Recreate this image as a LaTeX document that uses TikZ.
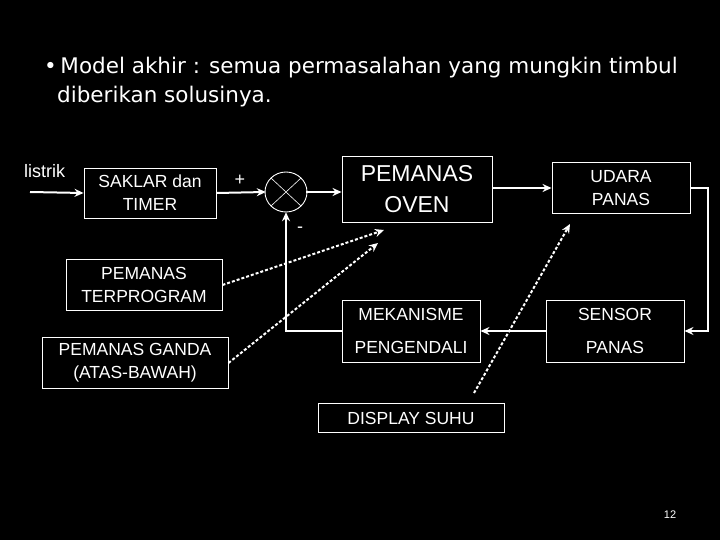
\documentclass[tikz,border=0pt]{standalone}
\usepackage{fontspec}
\setmainfont{Liberation Sans}
\newfontfamily\titlefont{DejaVu Sans}
\usetikzlibrary{arrows.meta}
\begin{document}
\begin{tikzpicture}[x=1pt,y=-1pt,
  box/.style={draw=white,line width=0.9pt,text=white,align=center,inner sep=0pt,font=\fontsize{17.5}{23}\selectfont},
  conn/.style={draw=white,line width=2pt,-{Stealth[length=9pt,width=8pt]}},
  dot/.style={draw=white,line width=2pt,dash pattern=on 3pt off 2pt,-{Stealth[length=9pt,width=8pt]}},
  lbl/.style={text=white,inner sep=0pt,font=\fontsize{18}{20}\selectfont}]
\fill[black] (0,0) rectangle (720,540);
\useasboundingbox (0,0) rectangle (720,540);
\node[anchor=west,text=white,inner sep=0pt,font=\titlefont\fontsize{21.5}{29}\selectfont,align=left] (title) at (44,82)
 {\textbullet\,Model akhir : semua permasalahan yang mungkin timbul\\\hspace*{13pt}diberikan solusinya.};
\node[box,minimum width=132,minimum height=50] (saklar) at (150,193) {SAKLAR dan\\TIMER};
\draw[white,line width=0.9pt] (286,192) ellipse (21 and 20);
\node[minimum size=40,inner sep=0pt] (sum) at (286,192) {};
\draw[white,line width=0.6pt] (271,178)--(301,206) (301,178)--(271,206);
\node[box,minimum width=150,minimum height=66,font=\fontsize{23}{31}\selectfont] (oven) at (417,189) {PEMANAS\\OVEN};
\node[box,minimum width=138,minimum height=51] (udara) at (621,188) {UDARA\\PANAS};
\node[box,minimum width=138,minimum height=62,font=\fontsize{17.5}{33}\selectfont] (meka) at (411,331) {MEKANISME\\PENGENDALI};
\node[box,minimum width=138,minimum height=62,font=\fontsize{17.5}{33}\selectfont] (sensor) at (615,331) {SENSOR\\PANAS};
\node[box,minimum width=156,minimum height=51] (terprog) at (144,285) {PEMANAS\\TERPROGRAM};
\node[box,minimum width=186,minimum height=51] (ganda) at (135,363) {PEMANAS GANDA\\(ATAS-BAWAH)};
\node[box,minimum width=186,minimum height=29] (disp) at (411,418) {DISPLAY SUHU};
\node[lbl,anchor=west] (listrik) at (24,171) {listrik};
\node[lbl] (plus) at (240,180) {+};
\node[lbl] (minus) at (300,230) {-};
\node[text=white,inner sep=0pt,font=\fontsize{11}{12}\selectfont] (pg) at (670,515) {12};
\coordinate (lin) at (30,192);
\draw[conn] (lin) -- (saklar.west);
\draw[conn] (saklar.east) -- (sum.west);
\draw[conn] (sum.east) -- (sum.east -| oven.west);
\draw[conn] (oven.east |- udara.west) -- (udara.west);
\draw[conn] (udara.east) -- ++(18,0) |- (sensor.east);
\draw[conn] (sensor.west) -- (meka.east);
\draw[conn] (meka.west) -| (sum.south);
\coordinate (t1) at (384,230);
\coordinate (t2) at (378,243);
\coordinate (t3) at (570,224);
\coordinate (s3) at (474,393);
\draw[dot] (terprog.east) -- (t1);
\draw[dot] (ganda.east) -- (t2);
\draw[dot] (s3) -- (t3);
\end{tikzpicture}
\end{document}
